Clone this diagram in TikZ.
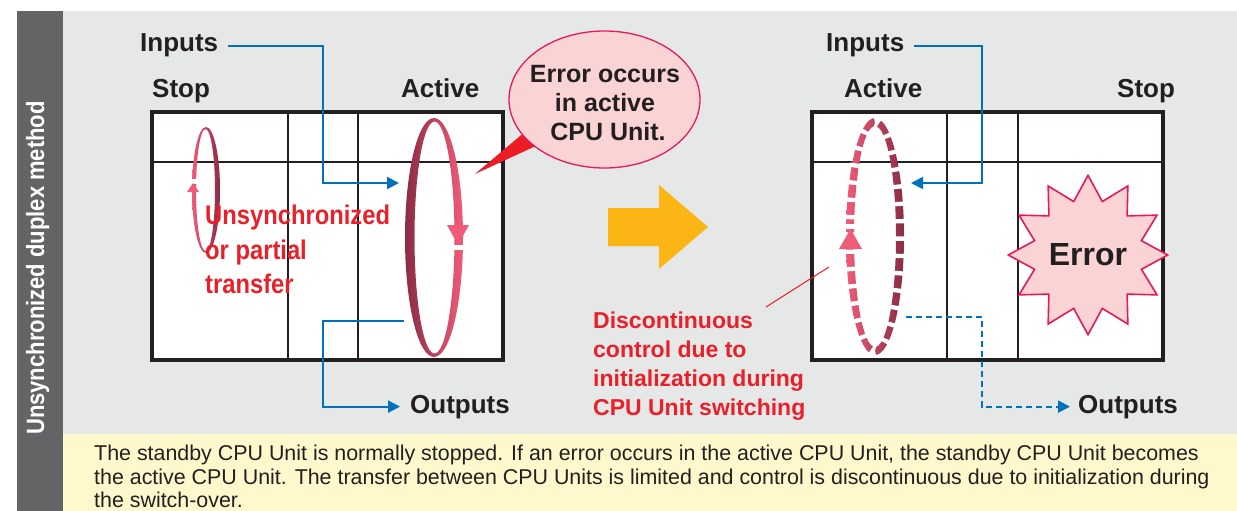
\documentclass[tikz,border=0pt]{standalone}
\usepackage{fontspec}
\setmainfont{Liberation Sans}
\newfontfamily\condbold{Liberation Sans Bold}[FakeStretch=0.88]
\usetikzlibrary{arrows.meta,shapes.geometric}
\definecolor{txtdark}{HTML}{231F20}
\definecolor{bluel}{HTML}{0072BC}
\definecolor{redtxt}{HTML}{E8202A}
\definecolor{tailred}{HTML}{ED1C24}
\definecolor{ringdark}{HTML}{8B2C45}
\definecolor{ringlight}{HTML}{EF5B78}
\definecolor{pinkfill}{HTML}{FAD4D4}
\definecolor{magentaedge}{HTML}{E6195B}
\definecolor{orangearr}{HTML}{FBB616}
\definecolor{panelgrey}{HTML}{E6E7E7}
\definecolor{sidegrey}{HTML}{636466}
\definecolor{yellowbg}{HTML}{FFF8CC}
\begin{document}
\begin{tikzpicture}[x=1pt,y=-1pt,
  lbl/.style={inner sep=0pt, anchor=base west, text=txtdark, font=\bfseries\fontsize{26}{30}\selectfont},
  redl/.style={inner sep=0pt, anchor=base west, text=redtxt, font=\condbold\fontsize{27}{35}\selectfont},
  redr/.style={inner sep=0pt, anchor=base west, text=redtxt, font=\bfseries\fontsize{23}{29}\selectfont},
  calltxt/.style={inner sep=0pt, anchor=base, text=txtdark, font=\bfseries\fontsize{25}{29}\selectfont},
  bottxt/.style={inner sep=0pt, anchor=base west, text=txtdark, font=\fontsize{21.4}{25}\selectfont},
  boxborder/.style={draw=txtdark, line width=4pt},
  gridline/.style={draw=txtdark, line width=2pt},
  bline/.style={draw=bluel, line width=2pt, -{Triangle[length=12pt,width=12pt]}},
  bdash/.style={bline, dash pattern=on 6pt off 4pt},
]
\useasboundingbox (0,0) rectangle (1237,511);
% backgrounds
\fill[white] (0,0) rectangle (1237,511);
\fill[sidegrey] (17,11) rectangle (63,511);
\fill[panelgrey] (63,11) rectangle (1237,434);
\fill[yellowbg] (63,434) rectangle (1237,511);
\node[rotate=90, anchor=base, inner sep=0pt, text=white, font=\condbold\fontsize{25}{30}\selectfont] (side) at (44,268) {Unsynchronized duplex method};

% left box
\fill[white] (152,112) rectangle (503,360);
\draw[gridline] (152,162) -- (503,162);
\draw[gridline] (288,112) -- (288,360);
\draw[gridline] (358,112) -- (358,360);
\draw[boxborder] (152,112) rectangle (503,360);

% right box
\fill[white] (812,112) rectangle (1163,360);
\draw[gridline] (812,162) -- (1163,162);
\draw[gridline] (947,112) -- (947,360);
\draw[gridline] (1018,112) -- (1018,360);
\draw[boxborder] (812,112) rectangle (1163,360);

% small ring (stop, left)
\shade[even odd rule, left color=ringlight, right color=ringdark]
  (206,190) ellipse [x radius=14, y radius=63]
  (205.5,190) ellipse [x radius=9.5, y radius=61];
\fill[white] (189,179) rectangle (198,183.5);
\fill[ringlight] (187,192) -- (199,192) -- (193,183) -- cycle;

% big ring (active, left)
\shade[even odd rule, left color=ringdark, right color=ringlight]
  (434,237.5) ellipse [x radius=29, y radius=119.5]
  (434.5,237.5) ellipse [x radius=20, y radius=116];
\fill[white] (451,244.5) rectangle (466,249.5);
\fill[ringlight] (447,225) -- (469,225) -- (458,245) -- cycle;

% dashed ring (active, right)
\shade[even odd rule, left color=ringlight, right color=ringdark]
  (875,236.5) ellipse [x radius=29, y radius=118.5]
  (875,236.5) ellipse [x radius=21, y radius=110.5];
\draw[white, line width=11pt, dash pattern=on 4.3pt off 13pt]
  (875,236.5) ellipse [x radius=25, y radius=114.5];
\fill[white] (842,224) rectangle (858,229);
\fill[ringlight] (839,249) -- (862,249) -- (850.5,229) -- cycle;

% labels
\node[lbl] (inL) at (140,52) {Inputs};
\node[lbl] (stopL) at (152,97) {Stop};
\node[lbl] (actL) at (401,97) {Active};
\node[lbl] (outL) at (410,413) {Outputs};
\node[lbl] (inR) at (826,52) {Inputs};
\node[lbl] (actR) at (844,97) {Active};
\node[lbl] (stopR) at (1117,97) {Stop};
\node[lbl] (outR) at (1078,413) {Outputs};

% coordinates for connectors
\coordinate (inLc) at (323,183);
\coordinate (inLt) at (399,183);
\coordinate (outLs) at (404,321);
\coordinate (outLc) at (323,321);
\coordinate (inRc) at (982,183);
\coordinate (inRt) at (911,183);
\coordinate (outRs) at (906,317);
\coordinate (outRc) at (982,317);

\draw[bline] ([xshift=10pt]inL.east) -| (inLc) -- (inLt);
\draw[bline] (outLs) -- (outLc) |- ([xshift=-10pt]outL.west);
\draw[bline] ([xshift=10pt]inR.east) -| (inRc) -- (inRt);
\draw[bdash] (outRs) -- (outRc) |- ([xshift=-8pt]outR.west);

% red text left
\node[redl] (un1) at (205,224) {Unsynchronized};
\node[redl] (un2) at (205,259) {or partial};
\node[redl] (un3) at (205,293) {transfer};

% callout
\coordinate (tailtip) at (475,174);
\fill[tailred] (tailtip) -- (526,131) -- (539,144.5) -- cycle;
\node[ellipse, minimum width=191pt, minimum height=137pt, inner sep=0pt, fill=pinkfill, draw=magentaedge, line width=1.3pt] (callout) at (604.5,99.5) {};
\node[calltxt] (cl1) at (605,82) {Error occurs};
\node[calltxt] (cl2) at (605,111) {in active};
\node[calltxt] (cl3) at (608,140) {CPU Unit.};

% orange arrow
\fill[orangearr] (608,208) -- (659,208) -- (659,185) -- (708,227) -- (659,269) -- (659,246) -- (608,246) -- cycle;

% star
\node[star, star points=12, star point ratio=1.44, minimum size=153pt, inner sep=0pt,
  fill=pinkfill, draw=magentaedge, line width=1.6pt, text=txtdark,
  font=\bfseries\fontsize{32}{36}\selectfont] (err) at (1088,255) {Error};

% red text right + leader
\coordinate (leadA) at (829,267);
\coordinate (leadB) at (766,307);
\draw[tailred, line width=1pt] (leadA) -- (leadB);
\node[redr] (d1) at (593,328) {Discontinuous};
\node[redr] (d2) at (593,357) {control due to};
\node[redr] (d3) at (593,386.5) {initialization during};
\node[redr] (d4) at (593,415) {CPU Unit switching};

% bottom text
\node[bottxt] (b1) at (94,460) {The standby CPU Unit is normally stopped. If an error occurs in the active CPU Unit, the standby CPU Unit becomes};
\node[bottxt] (b2) at (94,484) {the active CPU Unit. The transfer between CPU Units is limited and control is discontinuous due to initialization during};
\node[bottxt] (b3) at (94,507) {the switch-over.};
\end{tikzpicture}
\end{document}
